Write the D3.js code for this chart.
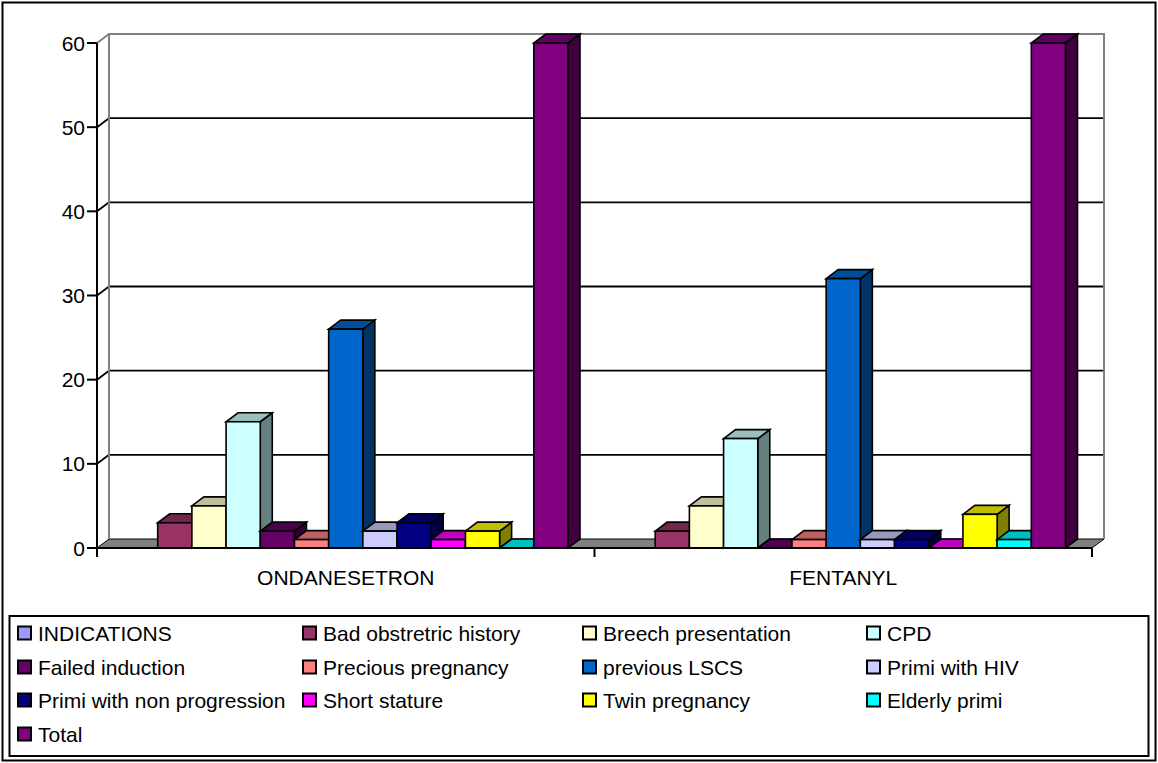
<!DOCTYPE html>
<html>
<head>
<meta charset="utf-8">
<script src="https://cdn.jsdelivr.net/npm/d3@7"></script>
<style>
  html, body { margin: 0; padding: 0; background: #fff; }
  svg text { font-family: "Liberation Sans", Arial, sans-serif; fill: #000; }
</style>
</head>
<body>
<svg id="chart" width="1158" height="763"></svg>
<script>
// Caesarean indications by study group
const categories = ["ONDANESETRON", "FENTANYL"];
const seriesNames = [
  "INDICATIONS", "Bad obstretric history", "Breech presentation", "CPD",
  "Failed induction", "Precious pregnancy", "previous LSCS", "Primi with HIV",
  "Primi with non progression", "Short stature", "Twin pregnancy", "Elderly primi", "Total"
];
const seriesColors = [
  "#9999FF", "#993366", "#FFFFCC", "#CCFFFF",
  "#660066", "#FF8080", "#0066CC", "#CCCCFF",
  "#000080", "#FF00FF", "#FFFF00", "#00FFFF", "#800080"
];
const ondansetronValues = [null, 3, 5, 15, 2, 1, 26, 2, 3, 1, 2, 0, 60];
const fentanylValues    = [null, 2, 5, 13, 0, 1, 32, 1, 1, 0, 4, 1, 60];
const yTicks = [0, 10, 20, 30, 40, 50, 60];

const groupValues = [ondansetronValues, fentanylValues];

const svg = d3.select("#chart");
const FONT = 21;

// depth of the 3-D box
const DX = 12, DY = 9;

const y = d3.scaleLinear().domain([0, 60]).range([548, 43]);
const x0 = d3.scaleBand().domain(categories).range([97, 1092]).paddingInner(0).paddingOuter(0);
const x1 = d3.scaleBand().domain(seriesNames).range([0, x0.bandwidth()])
  .paddingInner(0).paddingOuter(0.775);

const shade = (c, k) => {
  const r = d3.rgb(c);
  return d3.rgb(r.r * k, r.g * k, r.b * k).formatHex();
};

// outer frame
svg.append("rect").attr("x", 2.5).attr("y", 2.5).attr("width", 1153).attr("height", 758)
  .attr("fill", "#fff").attr("stroke", "#000").attr("stroke-width", 2);

const plot = svg.append("g");
const [xL, xR] = x0.range();
const y0 = y(0), yTop = y(60);

// floor
plot.append("path")
  .attr("d", `M${xL},${y0} L${xR},${y0} L${xR + DX},${y0 - DY} L${xL + DX},${y0 - DY} Z`)
  .attr("fill", "#808080").attr("stroke", "#000").attr("stroke-width", 1);

// gridlines on the back wall, with connectors to the axis
yTicks.filter(t => t > 0 && t < 60).forEach(t => {
  plot.append("line")
    .attr("x1", xL + DX).attr("x2", xR + DX)
    .attr("y1", y(t) - DY).attr("y2", y(t) - DY)
    .attr("stroke", "#000").attr("stroke-width", 1.8);
  plot.append("line")
    .attr("x1", xL).attr("y1", y(t)).attr("x2", xL + DX).attr("y2", y(t) - DY)
    .attr("stroke", "#000").attr("stroke-width", 1.8);
});

// back wall outline
plot.append("path")
  .attr("d", `M${xL + DX},${y0 - DY} L${xL + DX},${yTop - DY} L${xR + DX},${yTop - DY} L${xR + DX},${y0 - DY}`)
  .attr("fill", "none").attr("stroke", "#808080").attr("stroke-width", 2);
plot.append("line")
  .attr("x1", xL).attr("y1", yTop).attr("x2", xL + DX).attr("y2", yTop - DY)
  .attr("stroke", "#808080").attr("stroke-width", 2);

// bars
categories.forEach((cat, gi) => {
  const g = plot.append("g");
  seriesNames.forEach((name, si) => {
    const v = groupValues[gi][si];
    if (v === null || v === undefined) return;
    const c = seriesColors[si];
    const bx = x0(cat) + x1(name);
    const w = x1.bandwidth();
    const yv = y(v);
    const bar = g.append("g").attr("stroke", "#000").attr("stroke-width", 1.6)
      .attr("stroke-linejoin", "miter");
    // right side
    bar.append("path")
      .attr("d", `M${bx + w},${yv} L${bx + w + DX},${yv - DY} L${bx + w + DX},${y0 - DY} L${bx + w},${y0} Z`)
      .attr("fill", shade(c, 0.5));
    // top
    bar.append("path")
      .attr("d", `M${bx},${yv} L${bx + w},${yv} L${bx + w + DX},${yv - DY} L${bx + DX},${yv - DY} Z`)
      .attr("fill", shade(c, 0.75));
    // front
    bar.append("rect")
      .attr("x", bx).attr("y", yv).attr("width", w).attr("height", y0 - yv)
      .attr("fill", c);
  });
});

// value axis
const yAxis = svg.append("g");
yAxis.append("line").attr("x1", xL).attr("x2", xL).attr("y1", yTop).attr("y2", y0)
  .attr("stroke", "#000").attr("stroke-width", 2);
yTicks.forEach(t => {
  yAxis.append("line").attr("x1", xL - 10).attr("x2", xL).attr("y1", y(t)).attr("y2", y(t))
    .attr("stroke", "#000").attr("stroke-width", 2);
  yAxis.append("text").attr("x", xL - 12).attr("y", y(t)).attr("dy", "0.36em")
    .attr("text-anchor", "end").attr("font-size", FONT).text(t);
});

// category axis
const xAxis = svg.append("g");
xAxis.append("line").attr("x1", xL).attr("x2", xR).attr("y1", y0).attr("y2", y0)
  .attr("stroke", "#000").attr("stroke-width", 2);
[xL, ...categories.map(c => x0(c) + x0.bandwidth())].forEach(tx => {
  xAxis.append("line").attr("x1", tx).attr("x2", tx).attr("y1", y0).attr("y2", y0 + 9)
    .attr("stroke", "#000").attr("stroke-width", 2);
});
categories.forEach(cat => {
  xAxis.append("text").attr("x", x0(cat) + x0.bandwidth() / 2).attr("y", 577)
    .attr("dy", "0.36em").attr("text-anchor", "middle").attr("font-size", FONT).text(cat);
});

// legend
const legend = svg.append("g");
legend.append("rect").attr("x", 9.5).attr("y", 616).attr("width", 1139).attr("height", 140)
  .attr("fill", "#fff").attr("stroke", "#000").attr("stroke-width", 2);
const colX = [17, 302, 582, 866];
const rowY = [633, 667, 700, 734];
seriesNames.forEach((name, i) => {
  const cx = colX[i % 4], cy = rowY[Math.floor(i / 4)];
  legend.append("rect").attr("x", cx + 1).attr("y", cy - 6.5).attr("width", 13).attr("height", 13)
    .attr("fill", seriesColors[i]).attr("stroke", "#000").attr("stroke-width", 2);
  legend.append("text").attr("x", cx + 21).attr("y", cy).attr("dy", "0.36em")
    .attr("font-size", FONT).text(name);
});
</script>
</body>
</html>
